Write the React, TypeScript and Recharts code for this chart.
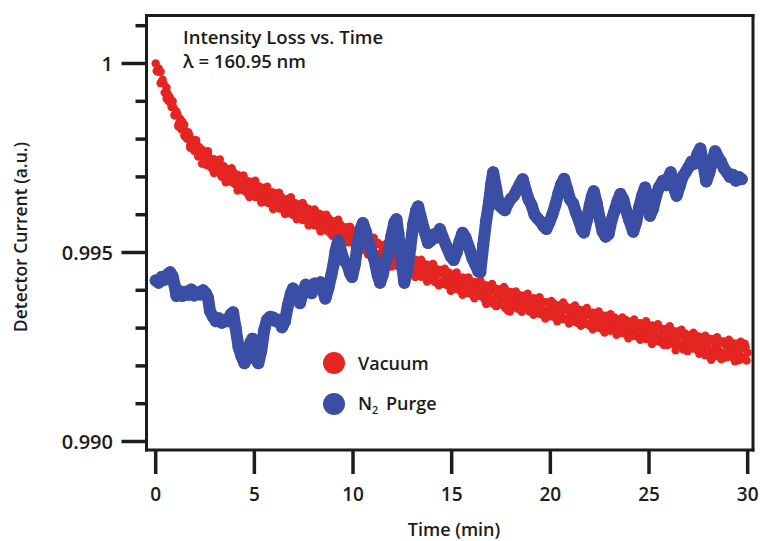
import React from 'react';
import { ComposedChart, Scatter, XAxis, YAxis, Legend } from 'recharts';

// ---------- data ----------
// Vacuum trace: interleaved sample sets.
// Set A at t = 0, 0.1, ... 30.0 min; set B at t = 0.05, 0.15, ... 29.95 min;
// set C (edge points of the band) at t = 0.25, 0.55, ... 29.65 min.
const SAMPLE_STEP_MIN = 0.1;
const SET_B_OFFSET_MIN = 0.05;
const SET_C_START_MIN = 0.25;
const SET_C_STEP_MIN = 0.3;

const vacuumValuesA = [
  1, 0.99979, 0.99978, 0.99951, 0.99947, 0.99921, 0.99921, 0.99912, 0.99885, 0.99884,
  0.99863, 0.99866, 0.99844, 0.99826, 0.99832, 0.99818, 0.99801, 0.9981, 0.99788, 0.99788,
  0.99769, 0.99777, 0.99779, 0.99755, 0.99755, 0.99758, 0.99734, 0.99746, 0.99747, 0.99729,
  0.99732, 0.99715, 0.9973, 0.99732, 0.99708, 0.99709, 0.99719, 0.99699, 0.99707, 0.99685,
  0.99703, 0.9969, 0.99703, 0.99676, 0.99685, 0.99672, 0.99687, 0.99673, 0.99659, 0.99674,
  0.99677, 0.99655, 0.99657, 0.99667, 0.99641, 0.99658, 0.99652, 0.99661, 0.9964, 0.99633,
  0.99648, 0.99634, 0.99651, 0.99622, 0.99633, 0.99636, 0.99617, 0.99627, 0.99606, 0.99628,
  0.99613, 0.99626, 0.99604, 0.99615, 0.9962, 0.99592, 0.99602, 0.99594, 0.99606, 0.99586,
  0.99603, 0.99575, 0.99591, 0.99582, 0.99595, 0.9957, 0.99584, 0.99568, 0.99587, 0.99568,
  0.99557, 0.9957, 0.99573, 0.99546, 0.99559, 0.99562, 0.99544, 0.99562, 0.99541, 0.99531,
  0.99545, 0.99552, 0.99527, 0.99534, 0.99519, 0.99537, 0.99519, 0.99535, 0.99505, 0.99524,
  0.99512, 0.9952, 0.99496, 0.99522, 0.99498, 0.99505, 0.99489, 0.99508, 0.99494, 0.99476,
  0.99497, 0.99483, 0.99498, 0.99473, 0.9949, 0.99461, 0.99481, 0.99469, 0.99483, 0.9946,
  0.99468, 0.99451, 0.99471, 0.99454, 0.99473, 0.99447, 0.99453, 0.99436, 0.99457, 0.99451,
  0.99433, 0.99455, 0.99438, 0.99445, 0.99421, 0.99446, 0.99427, 0.99435, 0.99419, 0.99442,
  0.99421, 0.99432, 0.99409, 0.99422, 0.99432, 0.99408, 0.99421, 0.99397, 0.99423, 0.99409,
  0.99418, 0.99399, 0.9942, 0.99391, 0.99405, 0.99395, 0.99411, 0.99387, 0.99403, 0.9938,
  0.99398, 0.99365, 0.994, 0.99384, 0.99402, 0.99376, 0.99385, 0.99354, 0.99393, 0.99373,
  0.99365, 0.99384, 0.9937, 0.99387, 0.99363, 0.99373, 0.99354, 0.99378, 0.99364, 0.99371,
  0.99376, 0.99351, 0.99364, 0.99343, 0.99366, 0.99353, 0.99366, 0.99346, 0.99368, 0.99339,
  0.99351, 0.99335, 0.99357, 0.99339, 0.99359, 0.99334, 0.99346, 0.99325, 0.99347, 0.99351,
  0.99332, 0.99347, 0.99323, 0.99339, 0.9933, 0.99347, 0.9932, 0.99332, 0.99313, 0.99335,
  0.99337, 0.99317, 0.99323, 0.99306, 0.9933, 0.99314, 0.99331, 0.99305, 0.9932, 0.99305,
  0.99327, 0.99308, 0.99297, 0.99316, 0.99298, 0.99319, 0.99299, 0.99306, 0.99286, 0.99311,
  0.99293, 0.99313, 0.99287, 0.99301, 0.99308, 0.99281, 0.99301, 0.99291, 0.99308, 0.99282,
  0.99293, 0.99277, 0.99299, 0.99282, 0.99301, 0.99277, 0.99263, 0.99291, 0.99268, 0.99286,
  0.99264, 0.99288, 0.99273, 0.99288, 0.99264, 0.99277, 0.99253, 0.99282, 0.99262, 0.99268,
  0.9928, 0.99256, 0.99271, 0.99249, 0.99265, 0.99239, 0.9927, 0.99254, 0.99266, 0.9924,
  0.99261, 0.99243, 0.99268, 0.99225, 0.99253, 0.99242, 0.99261, 0.99235, 0.99223, 0.99254,
  0.99235, 0.99257, 0.99238, 0.99253, 0.99225, 0.99245, 0.99229, 0.99247, 0.99219, 0.9925,
  0.99235,
];

const vacuumValuesB = [
  0.9998, 0.99987, 0.99948, 0.99957, 0.99923, 0.99936, 0.99901, 0.99897, 0.99899, 0.99863,
  0.99873, 0.99838, 0.99853, 0.99846, 0.99809, 0.99803, 0.99818, 0.99783, 0.99798, 0.99769,
  0.99788, 0.99754, 0.99758, 0.99772, 0.99765, 0.99732, 0.9976, 0.99728, 0.99722, 0.99747,
  0.99713, 0.99741, 0.99709, 0.997, 0.99728, 0.99722, 0.99691, 0.99718, 0.99687, 0.99712,
  0.99679, 0.99706, 0.9967, 0.99698, 0.99664, 0.99691, 0.99657, 0.99688, 0.99682, 0.9965,
  0.99647, 0.99676, 0.99675, 0.99638, 0.99671, 0.99637, 0.99633, 0.9963, 0.99659, 0.99659,
  0.99623, 0.99655, 0.99616, 0.99648, 0.99614, 0.9961, 0.99641, 0.99604, 0.99637, 0.996,
  0.99631, 0.99594, 0.99627, 0.9959, 0.99586, 0.99621, 0.99584, 0.99615, 0.99577, 0.99609,
  0.99572, 0.99605, 0.99569, 0.99601, 0.99562, 0.99594, 0.99558, 0.99591, 0.99551, 0.99583,
  0.99582, 0.99544, 0.99541, 0.99575, 0.99538, 0.99535, 0.99567, 0.99527, 0.99561, 0.99559,
  0.99521, 0.99517, 0.99551, 0.99515, 0.99546, 0.99507, 0.9954, 0.99501, 0.99537, 0.99499,
  0.9953, 0.99493, 0.99526, 0.99485, 0.99519, 0.99484, 0.99516, 0.99477, 0.99508, 0.99509,
  0.9947, 0.99502, 0.99464, 0.99498, 0.99459, 0.99496, 0.99456, 0.99487, 0.9945, 0.99485,
  0.99448, 0.99481, 0.99442, 0.99475, 0.99436, 0.99471, 0.99436, 0.99468, 0.9943, 0.99427,
  0.99461, 0.99422, 0.99456, 0.99419, 0.99454, 0.99417, 0.9945, 0.99414, 0.99447, 0.99406,
  0.99441, 0.99404, 0.9944, 0.99402, 0.99398, 0.99434, 0.99398, 0.99432, 0.99392, 0.99425,
  0.99388, 0.99422, 0.99386, 0.99421, 0.99385, 0.99417, 0.99377, 0.99413, 0.99377, 0.99412,
  0.99375, 0.99407, 0.99358, 0.99403, 0.99366, 0.994, 0.99364, 0.994, 0.99346, 0.99395,
  0.99394, 0.99355, 0.99389, 0.99351, 0.99387, 0.99351, 0.99386, 0.9935, 0.99382, 0.99344,
  0.99343, 0.99379, 0.99341, 0.99377, 0.99338, 0.99372, 0.99334, 0.99368, 0.99331, 0.99367,
  0.99331, 0.99366, 0.99328, 0.9936, 0.99323, 0.9936, 0.99324, 0.99359, 0.99322, 0.99318,
  0.99354, 0.99318, 0.99353, 0.99314, 0.99348, 0.9931, 0.99347, 0.99312, 0.99345, 0.99308,
  0.99305, 0.99341, 0.99305, 0.99339, 0.99301, 0.99334, 0.99296, 0.99333, 0.99297, 0.99331,
  0.99293, 0.99327, 0.99328, 0.99288, 0.99322, 0.99287, 0.99322, 0.99286, 0.99321, 0.99282,
  0.99316, 0.99279, 0.99315, 0.99279, 0.99277, 0.99313, 0.99277, 0.9931, 0.99271, 0.99307,
  0.99271, 0.99307, 0.9927, 0.99304, 0.99265, 0.99301, 0.99298, 0.99262, 0.99298, 0.99255,
  0.99297, 0.99259, 0.99292, 0.99254, 0.99291, 0.99254, 0.99289, 0.99243, 0.99285, 0.99248,
  0.99246, 0.99282, 0.99246, 0.99281, 0.99243, 0.99277, 0.99238, 0.99275, 0.99228, 0.99274,
  0.99237, 0.99271, 0.99232, 0.9927, 0.99234, 0.99267, 0.99218, 0.99264, 0.99265, 0.99223,
  0.99262, 0.99225, 0.9926, 0.99222, 0.99259, 0.99215, 0.99259, 0.99222, 0.99259, 0.99214,
];

const vacuumValuesC = [
  0.99978, 0.99907, 0.99901, 0.99833, 0.99838, 0.99777, 0.99797, 0.99735, 0.99768, 0.9971,
  0.99746, 0.99686, 0.99723, 0.99664, 0.99704, 0.99647, 0.9969, 0.99632, 0.99674, 0.99615,
  0.99658, 0.99602, 0.99646, 0.99588, 0.99631, 0.99572, 0.99614, 0.99556, 0.996, 0.99544,
  0.99587, 0.99526, 0.99568, 0.99509, 0.99554, 0.99495, 0.99539, 0.99481, 0.99522, 0.99463,
  0.99509, 0.99451, 0.99492, 0.99435, 0.99481, 0.99423, 0.9947, 0.99413, 0.99457, 0.99399,
  0.99447, 0.99388, 0.99434, 0.99379, 0.99426, 0.99364, 0.99417, 0.99361, 0.99409, 0.99344,
  0.99397, 0.99343, 0.99391, 0.99335, 0.99382, 0.99325, 0.99372, 0.99318, 0.99368, 0.99312,
  0.9936, 0.99306, 0.99353, 0.99297, 0.99344, 0.99288, 0.99337, 0.99282, 0.99328, 0.99273,
  0.99323, 0.99269, 0.99318, 0.99258, 0.9931, 0.99255, 0.99305, 0.99241, 0.99296, 0.99239,
  0.99288, 0.99232, 0.9928, 0.99216, 0.99276, 0.9922, 0.99269, 0.99212, 0.99264,
];

const purgeTimes = [
  0, 0.15, 0.3, 0.45, 0.6, 0.73, 0.85, 0.95, 1.05, 1.2, 1.35, 1.5, 1.65, 1.8, 1.95, 2.1, 2.25, 2.4, 2.55, 2.65,
  2.75, 2.9, 3.05, 3.2, 3.35, 3.5, 3.65, 3.8, 3.92, 4.05, 4.2, 4.35, 4.5, 4.65, 4.8, 4.9, 5.0, 5.1, 5.2, 5.35,
  5.5, 5.64, 5.8, 5.95, 6.1, 6.25, 6.4, 6.55, 6.7, 6.85, 6.96, 7.1, 7.2, 7.31, 7.45, 7.6, 7.75, 7.9, 8.05, 8.2,
  8.35, 8.5, 8.6, 8.75, 8.9, 9.0, 9.12, 9.25, 9.4, 9.55, 9.7, 9.85, 9.95, 10.1, 10.25, 10.4, 10.5, 10.65, 10.8, 10.96,
  11.1, 11.25, 11.37, 11.5, 11.65, 11.8, 11.95, 12.1, 12.2, 12.3, 12.45, 12.6, 12.75, 12.9, 13.05, 13.2, 13.3, 13.45, 13.6, 13.8,
  13.95, 14.1, 14.25, 14.4, 14.55, 14.75, 14.95, 15.1, 15.25, 15.4, 15.55, 15.7, 15.9, 16.05, 16.2, 16.35, 16.45, 16.6, 16.75, 16.9,
  17.0, 17.1, 17.25, 17.4, 17.55, 17.7, 17.85, 18.0, 18.15, 18.3, 18.45, 18.6, 18.75, 18.9, 19.05, 19.2, 19.35, 19.5, 19.65, 19.8,
  19.95, 20.1, 20.25, 20.4, 20.55, 20.7, 20.85, 21.0, 21.15, 21.3, 21.45, 21.6, 21.7, 21.85, 22.0, 22.1, 22.2, 22.35, 22.5, 22.65,
  22.8, 22.95, 23.1, 23.25, 23.4, 23.55, 23.7, 23.85, 24.0, 24.2, 24.35, 24.5, 24.65, 24.8, 24.95, 25.05, 25.2, 25.35, 25.5, 25.7,
  25.85, 26.0, 26.1, 26.25, 26.4, 26.55, 26.7, 26.85, 27.0, 27.15, 27.3, 27.45, 27.6, 27.75, 27.9, 28.05, 28.2, 28.35, 28.5, 28.65,
  28.8, 28.95, 29.1, 29.25, 29.4, 29.55, 29.7,
];

const purgeValues = [
  0.99426, 0.9942, 0.99435, 0.99428, 0.99442, 0.99448, 0.99438, 0.99415, 0.99385, 0.99398, 0.99385, 0.99396, 0.99388, 0.99402, 0.99386, 0.99395, 0.99389, 0.994, 0.99392, 0.9938,
  0.99345, 0.9933, 0.99318, 0.99326, 0.99314, 0.99322, 0.99318, 0.99336, 0.99342, 0.993, 0.9925, 0.99225, 0.99207, 0.9923, 0.99262, 0.99272, 0.9925, 0.99215, 0.99207, 0.9924,
  0.99295, 0.99322, 0.9933, 0.99328, 0.99318, 0.99322, 0.99302, 0.99318, 0.9936, 0.99392, 0.99405, 0.99382, 0.99396, 0.99366, 0.99392, 0.99415, 0.994, 0.99392, 0.99418, 0.99408,
  0.99421, 0.99395, 0.99378, 0.99405, 0.9944, 0.99465, 0.99505, 0.99532, 0.99502, 0.99478, 0.9947, 0.99445, 0.99435, 0.9947, 0.9953, 0.99565, 0.99578, 0.99555, 0.99525, 0.99498,
  0.99478, 0.9944, 0.9942, 0.9944, 0.99475, 0.995, 0.99545, 0.9958, 0.99588, 0.9955, 0.9948, 0.9942, 0.99455, 0.9951, 0.99575, 0.99612, 0.99622, 0.9959, 0.9956, 0.99525,
  0.99532, 0.99548, 0.9954, 0.99562, 0.9954, 0.99515, 0.9949, 0.9948, 0.995, 0.9953, 0.99552, 0.9954, 0.9951, 0.99485, 0.99468, 0.9945, 0.99448, 0.9952, 0.99585, 0.99635,
  0.9968, 0.99712, 0.9967, 0.99625, 0.99618, 0.99612, 0.9963, 0.99642, 0.9965, 0.99665, 0.9968, 0.99694, 0.99665, 0.9964, 0.99625, 0.996, 0.9959, 0.99582, 0.9957, 0.99562,
  0.9958, 0.996, 0.99625, 0.99655, 0.9968, 0.99695, 0.99668, 0.9964, 0.9963, 0.99605, 0.99585, 0.9956, 0.99553, 0.99585, 0.99625, 0.99648, 0.99662, 0.9963, 0.9959, 0.99555,
  0.99542, 0.99548, 0.99585, 0.9961, 0.99635, 0.99655, 0.9964, 0.9961, 0.99585, 0.99555, 0.9958, 0.9962, 0.9965, 0.99672, 0.9964, 0.99597, 0.99615, 0.99648, 0.99672, 0.9969,
  0.99678, 0.997, 0.99712, 0.99672, 0.9965, 0.99675, 0.997, 0.99712, 0.99725, 0.9974, 0.99735, 0.9976, 0.99775, 0.99735, 0.99688, 0.9971, 0.9974, 0.99768, 0.99752, 0.9974,
  0.99722, 0.99712, 0.997, 0.99706, 0.9969, 0.997, 0.99694,
];

const X_TICKS = [0, 5, 10, 15, 20, 25, 30];
const Y_MAJOR_TICKS = [0.99, 0.995, 1];
const Y_MAJOR_LABELS = ['0.990', '0.995', '1'];
const Y_MINOR_TICKS = [0.991, 0.992, 0.993, 0.994, 0.996, 0.997, 0.998, 0.999, 1.001];

const TITLE_LINE_1 = 'Intensity Loss vs. Time';
const TITLE_LINE_2 = 'λ = 160.95 nm';
const X_TITLE = 'Time (min)';
const Y_TITLE = 'Detector Current (a.u.)';
const SERIES_VACUUM = 'Vacuum';
const SERIES_PURGE = 'N2 Purge';
const LEGEND_ORDER = [SERIES_VACUUM, SERIES_PURGE];

// ---------- style ----------
const RED = '#e42522';
const BLUE = '#3b4ea6';
const INK = '#1c1c1c';
const FONT = '"Open Sans", "Liberation Sans", Arial, sans-serif';
const X_DOMAIN: [number, number] = [-0.466, 30.27];
const Y_DOMAIN: [number, number] = [0.989775, 1.00127];

const round2 = (n: number) => Math.round(n * 100) / 100;
const vacuumData = [
  ...vacuumValuesA.map((v, i) => ({ t: round2(i * SAMPLE_STEP_MIN), v })),
  ...vacuumValuesB.map((v, i) => ({ t: round2(SET_B_OFFSET_MIN + i * SAMPLE_STEP_MIN), v })),
  ...vacuumValuesC.map((v, i) => ({ t: round2(SET_C_START_MIN + i * SET_C_STEP_MIN), v })),
];
const purgeData = purgeTimes
  .map((t, i) => ({ t, v: purgeValues[i] }))
  .filter((d) => typeof d.v === 'number');

const Y_ALL_TICKS = [...Y_MAJOR_TICKS, ...Y_MINOR_TICKS].sort((a, b) => a - b);

const YTick = (props: any) => {
  const { x, y, payload } = props;
  const idx = Y_MAJOR_TICKS.findIndex((m) => Math.abs(m - payload.value) < 1e-9);
  const major = idx >= 0;
  return (
    <g>
      <line x1={x} x2={x - (major ? 25 : 11)} y1={y} y2={y} stroke={INK} strokeWidth={3.5} />
      {major && (
        <text
          x={x - 33.5}
          y={y}
          dy="0.36em"
          textAnchor="end"
          fill={INK}
          fontSize={20}
          fontFamily={FONT}
          fontWeight={600}
        >
          {Y_MAJOR_LABELS[idx]}
        </text>
      )}
    </g>
  );
};

const XTitle = () => (
  <text x={454} y={536} textAnchor="middle" fill={INK} fontSize={18} fontFamily={FONT} fontWeight={600}>
    {X_TITLE}
  </text>
);

const YTitle = () => (
  <text
    x={0}
    y={0}
    transform="translate(26.5,237) rotate(-90)"
    textAnchor="middle"
    fill={INK}
    fontSize={17.5}
    fontFamily={FONT}
    fontWeight={600}
  >
    {Y_TITLE}
  </text>
);

const PlotTitle = () => (
  <g fill={INK} fontFamily={FONT} fontWeight={600} fontSize={18.5}>
    <text x={183} y={44}>{TITLE_LINE_1}</text>
    <text x={183} y={68}>{TITLE_LINE_2}</text>
  </g>
);

const renderName = (name: string) =>
  name.startsWith('N2') ? (
    <span>
      N<sub style={{ fontSize: '0.6em', verticalAlign: '-0.35em', marginRight: 3 }}>2</sub>
      {name.slice(2)}
    </span>
  ) : (
    <span>{name}</span>
  );

const LegendContent = (props: any) => {
  const items = ([...(props.payload || [])] as any[]).sort(
    (a, b) => LEGEND_ORDER.indexOf(String(a.value)) - LEGEND_ORDER.indexOf(String(b.value)),
  );
  return (
    <div style={{ fontFamily: FONT, fontWeight: 600, fontSize: 18, color: INK }}>
      {items.map((it) => (
        <div key={it.value} style={{ display: 'flex', alignItems: 'center', height: 40.5 }}>
          <span
            style={{
              width: 22,
              height: 22,
              borderRadius: '50%',
              background: it.color,
              display: 'inline-block',
              flex: 'none',
            }}
          />
          <span style={{ marginLeft: 13 }}>{renderName(String(it.value))}</span>
        </div>
      ))}
    </div>
  );
};

const VacDot = (p: any) => <circle cx={p.cx} cy={p.cy} r={4.2} fill={RED} />;
const PurgeDot = (p: any) => <circle cx={p.cx} cy={p.cy} r={6} fill={BLUE} />;

export default function App() {
  return (
    <div style={{ position: 'absolute', left: 0, top: 0, width: 760, height: 541, background: '#fff' }}>
      <ComposedChart width={760} height={541} margin={{ top: 14.5, right: 6, bottom: 0, left: 0 }}>
        <XAxis
          xAxisId={0}
          type="number"
          dataKey="t"
          domain={X_DOMAIN}
          allowDataOverflow
          ticks={X_TICKS}
          interval={0}
          height={91}
          tickSize={24}
          tickMargin={14}
          axisLine={{ stroke: INK, strokeWidth: 3, strokeLinecap: 'square' }}
          tickLine={{ stroke: INK, strokeWidth: 3.5 }}
          tick={{ fill: INK, fontSize: 19, fontFamily: FONT, fontWeight: 600 }}
          label={<XTitle />}
        />
        <XAxis
          xAxisId="top"
          orientation="top"
          type="number"
          domain={X_DOMAIN}
          allowDataOverflow
          ticks={[]}
          height={1}
          tick={false}
          tickLine={false}
          axisLine={{ stroke: INK, strokeWidth: 3, strokeLinecap: 'square' }}
          label={<PlotTitle />}
        />
        <YAxis
          yAxisId={0}
          type="number"
          dataKey="v"
          domain={Y_DOMAIN}
          allowDataOverflow
          ticks={Y_ALL_TICKS}
          interval={0}
          width={146.5}
          tickSize={0}
          tickMargin={0}
          tickLine={false}
          axisLine={{ stroke: INK, strokeWidth: 3, strokeLinecap: 'square' }}
          tick={<YTick />}
          label={<YTitle />}
        />
        <YAxis
          yAxisId="right"
          orientation="right"
          type="number"
          domain={Y_DOMAIN}
          allowDataOverflow
          ticks={[]}
          width={1}
          tick={false}
          tickLine={false}
          axisLine={{ stroke: INK, strokeWidth: 3, strokeLinecap: 'square' }}
        />
        <Scatter
          name={SERIES_VACUUM}
          data={vacuumData}
          fill={RED}
          shape={<VacDot />}
          isAnimationActive={false}
        />
        <Scatter
          name={SERIES_PURGE}
          data={purgeData}
          fill={BLUE}
          line={{ stroke: BLUE, strokeWidth: 12, strokeLinejoin: 'round', strokeLinecap: 'round' }}
          lineType="joint"
          shape={<PurgeDot />}
          isAnimationActive={false}
        />
        <Legend
          layout="vertical"
          align="center"
          verticalAlign="middle"
          content={<LegendContent />}
          wrapperStyle={{ left: 323, top: 343, width: 170, height: 81 }}
        />
      </ComposedChart>
    </div>
  );
}
